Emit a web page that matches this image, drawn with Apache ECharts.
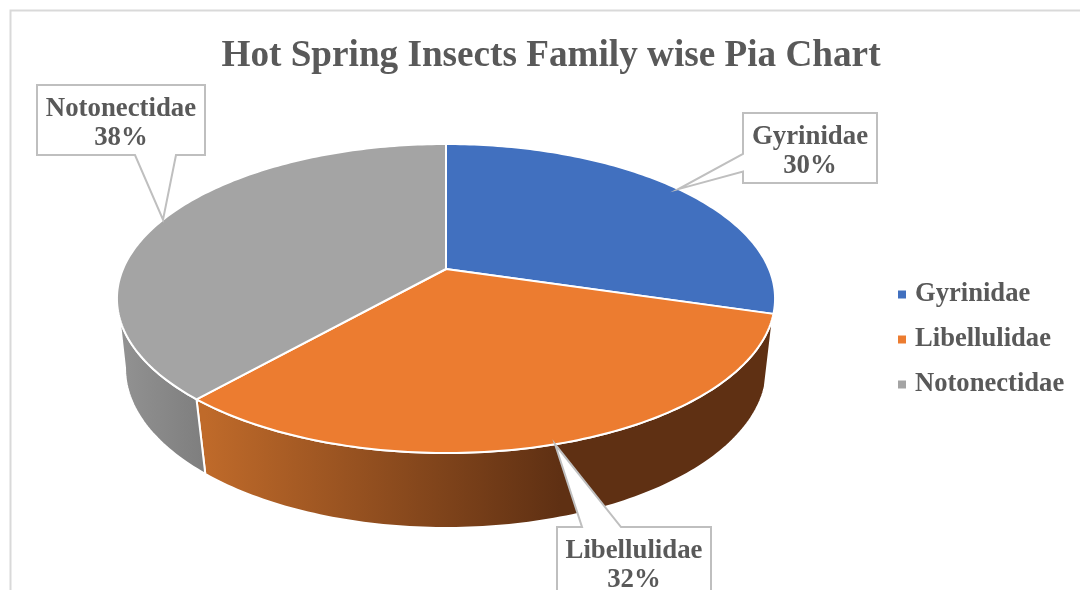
<!DOCTYPE html>
<html>
<head>
<meta charset="utf-8">
<script src="https://cdn.jsdelivr.net/npm/echarts@6/dist/echarts.min.js"></script>
<style>html,body{margin:0;padding:0;background:#fff;overflow:hidden}#c{width:1080px;height:590px}</style>
</head>
<body>
<div id="c"></div>
<script>
const categories = ['Gyrinidae', 'Libellulidae', 'Notonectidae'];
const values = [29.6, 31.91, 38.49];
const topColors = ['#4170BF', '#EC7C30', '#A4A4A4'];
const titleText = 'Hot Spring Insects Family wise Pia Chart';

// layout of the tilted disc: perspective projection of a unit circle
const CX = 446;
const TOP = { a: 323, A: 269, B: -97.5, k: 0.191 };
const BOTTOM = { a: 316, A: 340.3, B: -95.3, k: 0.175 };
const FRONT_END = 260; // last visible degree of the rim
const FONT = '"Liberation Serif","Times New Roman",serif';
const INK = '#595959';
const BOXES = [
  { x: 743, y: 113, w: 134, h: 70, side: 'left', b0: 154, b1: 171.5 },
  { x: 557, y: 527, w: 154, h: 76, side: 'top', b0: 582, b1: 621 },
  { x: 37, y: 85, w: 168, h: 70, side: 'bottom', b0: 135, b1: 176 }
];
const SIDE_FILLS = [
  null,
  { type: 'linear', x: 205, y: 0, x2: 560, y2: 0, global: true,
    colorStops: [{ offset: 0, color: '#BF6A2A' }, { offset: 1, color: '#5F3013' }] },
  { type: 'linear', x: 120, y: 0, x2: 205, y2: 0, global: true,
    colorStops: [{ offset: 0, color: '#929292' }, { offset: 1, color: '#7E7E7E' }] }
];

const total = values.reduce((s, v) => s + v, 0);
function project(ring, deg) {
  const t = deg * Math.PI / 180, u = Math.sin(t), v = Math.cos(t), d = 1 + ring.k * v;
  return [CX + ring.a * u / d, (ring.A + ring.B * v) / d];
}
function arc(ring, from, to) {
  const pts = [], n = Math.max(1, Math.ceil(Math.abs(to - from)));
  for (let i = 0; i <= n; i++) pts.push(project(ring, from + (to - from) * i / n));
  return pts;
}
function calloutPoints(b, tip) {
  const r = b.x + b.w, d = b.y + b.h;
  if (b.side === 'left') return [[b.x, b.y], [r, b.y], [r, d], [b.x, d], [b.x, b.b1], tip, [b.x, b.b0]];
  if (b.side === 'top') return [[b.x, b.y], [b.b0, b.y], tip, [b.b1, b.y], [r, b.y], [r, d], [b.x, d]];
  return [[b.x, b.y], [r, b.y], [r, d], [b.b1, d], tip, [b.b0, d], [b.x, d]];
}
function renderSlice(index) {
  return function (params, api) {
    const before = values.slice(0, index).reduce((s, v) => s + v, 0);
    const start = before / total * 360;
    const end = (before + api.value(0)) / total * 360;
    const children = [];
    if (SIDE_FILLS[index]) {
      const to = Math.min(end, FRONT_END);
      children.push({
        type: 'polygon', z2: 1,
        shape: { points: arc(TOP, start, to).concat(arc(BOTTOM, to, start)) },
        style: { fill: SIDE_FILLS[index], stroke: '#fff', lineWidth: 2 }
      });
    }
    children.push({
      type: 'polygon', z2: 2,
      shape: { points: [[CX, TOP.A]].concat(arc(TOP, start, end)) },
      style: { fill: topColors[index], stroke: '#fff', lineWidth: 2, lineJoin: 'round' }
    });
    const tip = project(TOP, (start + end) / 2);
    const b = BOXES[index];
    children.push({
      type: 'polygon', z2: 10,
      shape: { points: calloutPoints(b, tip) },
      style: { fill: '#fff', stroke: '#BFBFBF', lineWidth: 2 }
    });
    children.push({
      type: 'text', z2: 11,
      style: {
        text: categories[index] + '\n' + Math.round(api.value(0) / total * 100) + '%',
        x: b.x + b.w / 2, y: b.y + 38.5, align: 'center', verticalAlign: 'middle',
        fontFamily: FONT, fontWeight: 'bold', fontSize: 26.8, lineHeight: 29.5, fill: INK
      }
    });
    return { type: 'group', children };
  };
}

const chart = echarts.init(document.getElementById('c'), null, { renderer: 'canvas' });
chart.setOption({
  animation: false,
  backgroundColor: '#fff',
  title: {
    text: titleText, left: 546, top: 33, textAlign: 'center',
    textStyle: { fontFamily: FONT, fontWeight: 'bold', fontSize: 37.2, color: INK }
  },
  legend: {
    orient: 'vertical', left: 893, top: 276, itemWidth: 8, itemHeight: 8, itemGap: 18, icon: 'rect',
    data: categories,
    textStyle: { fontFamily: FONT, fontWeight: 'bold', fontSize: 26.6, color: INK, padding: [0, 0, 0, 4] }
  },
  graphic: [{
    type: 'rect', silent: true, z: -1,
    shape: { x: 10.5, y: 10.5, width: 1200, height: 700 },
    style: { fill: 'none', stroke: '#D9D9D9', lineWidth: 2 }
  }],
  series: categories.map((name, i) => ({
    type: 'custom', name, coordinateSystem: 'none', silent: true,
    itemStyle: { color: topColors[i] },
    data: [values[i]],
    renderItem: renderSlice(i)
  }))
});
</script>
</body>
</html>
